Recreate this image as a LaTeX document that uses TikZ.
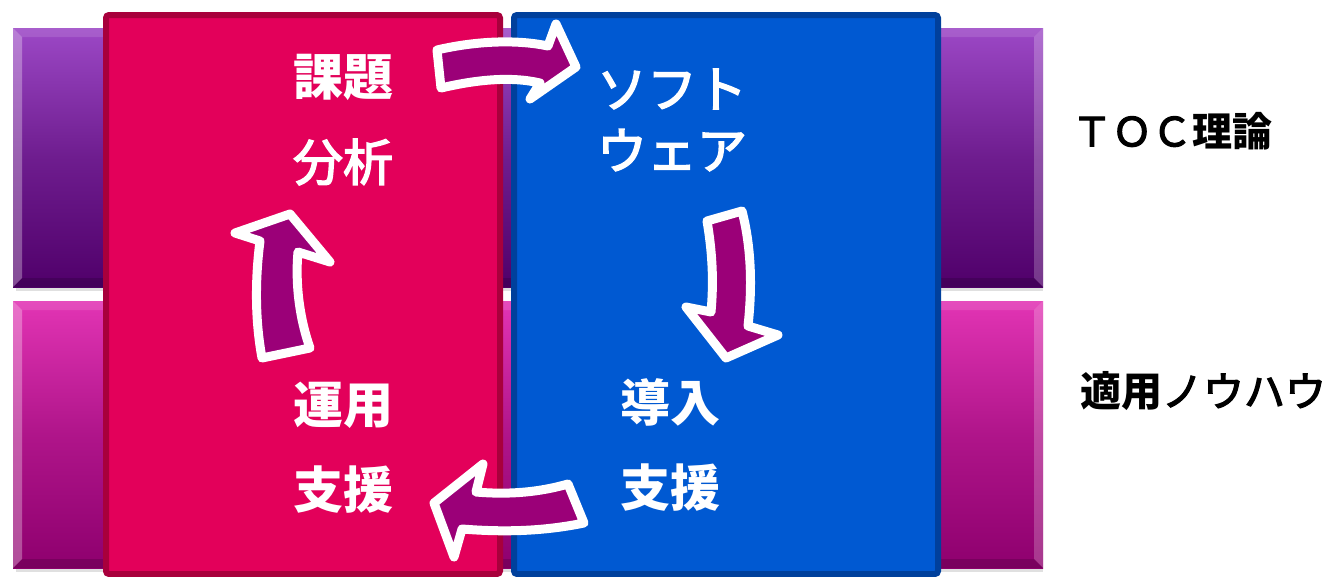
\documentclass[tikz,border=0pt]{standalone}
\usepackage{fontspec}
\newfontfamily\jp{Noto Sans CJK JP}
\newfontfamily\jpmed[FakeBold=3]{Noto Sans CJK JP}
\definecolor{redfill}{HTML}{E3005A}
\definecolor{redline}{HTML}{A8003C}
\definecolor{bluefill}{HTML}{0059D2}
\definecolor{blueline}{HTML}{00409C}
\definecolor{arrowc}{HTML}{9B0078}
\definecolor{ptop}{HTML}{9C48C6}
\definecolor{pmid}{HTML}{6C008E}
\definecolor{pbot}{HTML}{50006A}
\definecolor{mtop}{HTML}{E234B4}
\definecolor{mmid}{HTML}{C4009C}
\definecolor{mbot}{HTML}{8E006E}
\tikzset{
  cyc/.style={fill=arrowc, draw=white, line width=9pt, line join=round},
  boxtxt/.style={text=white, font=\jp\fontsize{50}{50}\selectfont, inner sep=0pt},
  sidetxt/.style={text=black, font=\jp\fontsize{41}{41}\selectfont, inner sep=0pt},
  bevel/.style={fill=white, fill opacity=#1, draw=none},
  shade bevel/.style={fill=black, fill opacity=#1, draw=none}
}
\newcommand{\bevelbar}[6]{%
  \fill[black, opacity=0.12] (#1+3,#4) rectangle (#3,#4+4);
  \shade[top color=#5, bottom color=#6, middle color=#6!60!#5] (#1,#2) rectangle (#3,#4);
  \fill[bevel=0.3] (#1,#2) -- (#1+9,#2+9) -- (#1+9,#4-9) -- (#1,#4) -- cycle;
  \fill[bevel=0.22] (#3,#2) -- (#3-9,#2+9) -- (#3-9,#4-9) -- (#3,#4) -- cycle;
  \fill[bevel=0.12] (#1,#2) -- (#3,#2) -- (#3-9,#2+9) -- (#1+9,#2+9) -- cycle;
  \fill[shade bevel=0.15] (#1,#4) -- (#3,#4) -- (#3-9,#4-9) -- (#1+9,#4-9) -- cycle;
}
\begin{document}
\begin{tikzpicture}[x=1pt,y=-1pt]
\useasboundingbox (0,0) rectangle (1334,576);
\fill[white] (0,0) rectangle (1334,576);
% background bars
\bevelbar{13}{28}{1043}{287}{ptop}{pbot}
\bevelbar{13}{301}{1043}{568}{mtop}{mbot}
% main boxes
\draw[fill=redfill, draw=redline, line width=6pt, rounded corners=3pt] (106,15) rectangle (500,574);
\draw[fill=bluefill, draw=blueline, line width=6pt, rounded corners=3pt] (514,15) rectangle (938,574);
% texts
\node[boxtxt] (t1) at (343,77) {\bfseries 課題};
\node[boxtxt] (t2) at (343,162) {\jpmed 分析};
\node[boxtxt] (t3) at (672,89) {\jpmed ソフト};
\node[boxtxt] (t4) at (672,150) {\jpmed ウェア};
\node[boxtxt] (t5) at (670,402) {\bfseries 導入};
\node[boxtxt] (t6) at (670,488) {\bfseries 支援};
\node[boxtxt] (t7) at (343,405) {\bfseries 運用};
\node[boxtxt] (t8) at (343,490) {\bfseries 支援};
\node[sidetxt, font=\jp\fontsize{40}{40}\selectfont] (s1) at (1172,131) {{\jpmed ＴＯＣ}\bfseries 理論};
\node[sidetxt] (s2) at (1203,391) {\bfseries 適用{\jpmed\mdseries ノウハウ}};
% cycle arrows
\path[cyc] (437,50) .. controls (480,40) and (520,40) .. (548,46) -- (556,24) -- (576,67) -- (530,99) -- (540,83) .. controls (510,76) and (475,80) .. (441,88) -- cycle;
\path[cyc] (707,221) -- (742,211) .. controls (752,250) and (752,290) .. (748,326) -- (778,335) -- (726,358) -- (686,307) -- (711,312) .. controls (714,280) and (712,250) .. (707,221) -- cycle;
\path[cyc] (568,484) -- (584,523) .. controls (540,532) and (500,532) .. (462,529) -- (454,557) -- (434,503) -- (483,464) -- (476,492) .. controls (510,495) and (540,492) .. (568,484) -- cycle;
\path[cyc] (262,358) .. controls (255,320) and (255,280) .. (260,241) -- (235,233) -- (290,214) -- (330,262) -- (298,252) .. controls (295,285) and (300,320) .. (310,348) -- cycle;
\end{tikzpicture}
\end{document}
